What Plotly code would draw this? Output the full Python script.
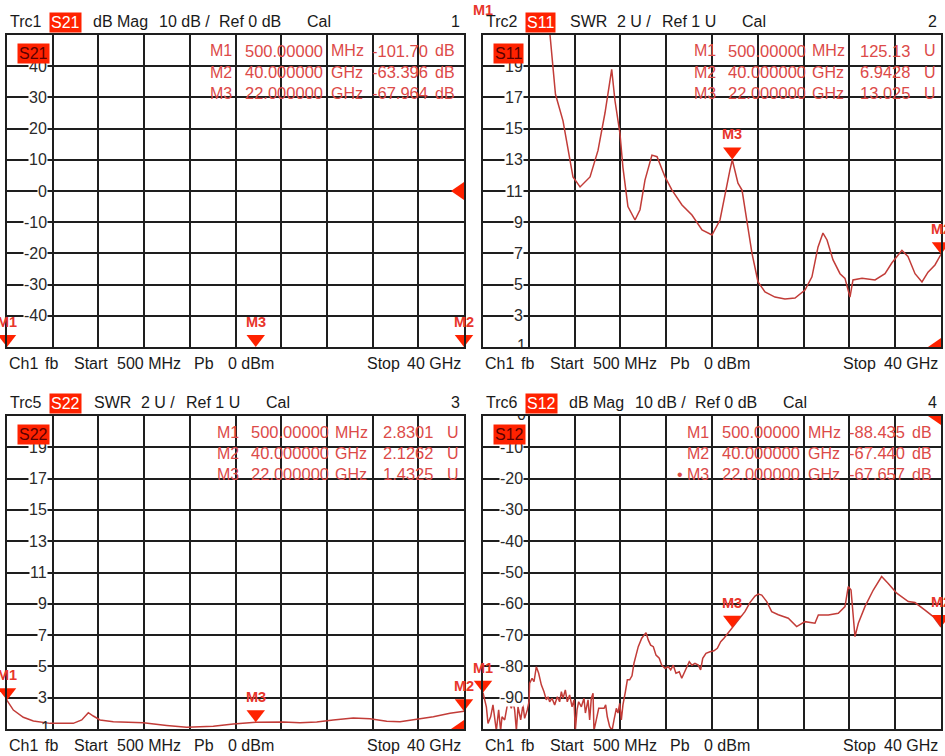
import plotly.graph_objects as go

W, H = 945, 756
F_START, F_STOP = 0.5, 40.0
N_DIV = 10

# ---------------- data ----------------
marker_names = ["M1", "M2", "M3"]
marker_freq_ghz = [0.5, 40.0, 22.0]
s21_marker_db = [-101.70, -63.396, -67.964]
s11_marker_swr = [125.13, 6.9428, 13.025]
s22_marker_swr = [2.8301, 2.1262, 1.4325]
s12_marker_db = [-88.435, -67.440, -67.657]

s11_freq_ghz = [0.5, 2.0, 4.0, 5.6, 6.28, 6.75, 7.40, 8.26, 8.87, 9.73, 10.42, 11.02, 11.60,
                11.88, 12.31, 12.57, 13.00, 13.61, 14.04, 14.47, 15.07, 15.51, 16.20, 16.80,
                17.66, 18.52, 19.39, 20.25, 20.94, 21.37, 21.80, 22.00, 22.49, 22.84, 23.27,
                23.70, 24.22, 24.82, 25.68, 26.54, 27.41, 28.27, 28.87, 29.39, 29.82, 30.17,
                30.68, 31.29, 31.72, 32.15, 32.41, 33.19, 34.31, 35.17, 35.77, 36.63, 37.15,
                37.76, 38.36, 38.88, 39.48, 40.0]
s11_swr = [125.13, 70.0, 38.0, 25.0, 21.0, 17.2, 15.5, 11.9, 11.26, 11.9, 13.6, 16.0, 18.8,
           16.8, 14.7, 12.5, 10.0, 9.14, 9.8, 11.7, 13.3, 13.2, 11.9, 11.06,
           10.1, 9.46, 8.5, 8.18, 9.14, 10.87, 12.35, 13.0, 11.5, 11.06, 8.9,
           7.0, 5.17, 4.53, 4.2, 4.08, 4.14, 4.65, 5.5, 7.4, 8.3, 7.86,
           6.6, 5.7, 5.4, 4.2, 5.3, 5.4, 5.3, 5.7, 6.4, 7.2, 6.8,
           5.7, 5.17, 5.8, 6.26, 6.94]

s22_freq_ghz = [0.5, 1.05, 1.91, 2.78, 4.22, 6.23, 6.96, 7.53, 7.96, 8.54, 9.69, 12.28, 14.3,
                16.03, 18.33, 20.06, 22.0, 24.38, 25.82, 27.27, 28.7, 30.43, 31.87, 33.32,
                34.47, 35.91, 37.35, 38.79, 40.0]
s22_swr = [2.83, 2.21, 1.75, 1.51, 1.36, 1.36, 1.58, 2.04, 1.83, 1.58, 1.47, 1.40, 1.23,
           1.11, 1.17, 1.32, 1.43, 1.45, 1.40, 1.45, 1.58, 1.70, 1.66, 1.49,
           1.47, 1.62, 1.79, 2.0, 2.13]

s12_freq_ghz = [0.50, 0.79, 0.93, 1.16, 1.36, 1.51, 1.65, 1.85, 2.02, 2.14, 2.37, 2.60, 2.80,
                2.94, 3.09, 3.23, 3.38, 3.52, 3.75, 3.95, 4.09, 4.32, 4.47, 4.52, 4.73, 4.90,
                5.10, 5.30, 5.53, 5.76, 5.96, 6.11, 6.25, 6.45, 6.68, 6.91, 7.11, 7.26, 7.40,
                7.60, 7.77, 7.97, 8.18, 8.35, 8.46, 8.61, 8.75, 8.98, 9.21, 9.33, 9.56, 9.70,
                9.84, 9.99, 10.07, 10.27, 10.48, 10.71, 10.94, 11.08, 11.22, 11.42, 11.63,
                11.80, 12.00, 12.14, 12.29, 12.43, 12.57, 12.78, 12.95, 13.15, 13.35, 13.52,
                13.72, 13.89, 14.19, 14.56, 14.76, 14.96, 15.19, 15.42, 15.70, 15.91, 16.20,
                16.48, 16.69, 16.91, 17.14, 17.43, 17.64, 17.83, 18.07, 18.29, 18.52, 18.78,
                19.07, 19.27, 19.45, 19.73, 20.08, 20.42, 20.71, 21.00, 21.28, 21.65, 22.00,
                22.32, 22.66, 23.09, 23.52, 23.96, 24.24, 24.54, 24.97, 25.40, 25.97, 26.83,
                27.55, 28.27, 29.13, 29.42, 30.28, 31.14, 31.72, 32.00, 32.24, 32.58, 32.87,
                33.44, 34.16, 34.88, 35.45, 36.18, 37.18, 37.76, 38.62, 39.33, 40.0]
s12_db = [-88.4, -92.9, -98.2, -96.1, -92.3, -97.1, -100.5, -93.9, -100.5, -96.1, -97.1, -92.3, -91.8,
          -93.4, -91.3, -93.9, -100.5, -92.9, -97.1, -92.3, -96.6, -93.9, -91.3, -85.4, -83.8, -84.9,
          -80.1, -82.2, -85.9, -88.1, -90.7, -89.7, -91.3, -90.2, -92.3, -89.7, -91.3, -88.1, -90.2,
          -87.5, -91.3, -89.1, -92.9, -90.7, -100.5, -93.9, -91.3, -92.9, -90.2, -94.9, -90.7, -97.1,
          -90.2, -88.6, -100.5, -97.1, -93.4, -93.4, -93.4, -92.3, -96.1, -99.2, -100.5,
          -97.1, -93.4, -94.9, -91.8, -97.1, -92.3, -88.1, -84.3, -84.3, -83.0, -79.0,
          -75.8, -73.7, -71.0, -69.2, -71.6, -73.2, -73.7, -76.4, -77.4, -79.6, -80.6,
          -80.1, -81.1, -79.6, -82.2, -81.7, -83.8, -82.2, -80.6, -78.5, -79.6, -79.0,
          -79.6, -81.1, -77.4, -75.8, -75.3, -75.0, -74.2, -72.1, -71.0, -69.2, -67.7,
          -66.2, -64.6, -62.5, -59.6, -57.5, -56.9, -57.2, -59.3, -62.5, -63.5, -64.6,
          -67.3, -65.7, -66.2, -63.6, -63.6, -63.0, -60.9, -54.5, -55.6, -70.5, -66.2,
          -60.9, -55.6, -51.3, -53.5, -56.6, -59.3, -59.6, -62.0, -64.1, -67.4]

db_ticks_tl = [40, 30, 20, 10, 0, -10, -20, -30, -40]
swr_ticks = [19, 17, 15, 13, 11, 9, 7, 5, 3]
db_ticks_br = [-10, -20, -30, -40, -50, -60, -70, -80, -90]

# ---------------- style ----------------
FONT = "Arial, Liberation Sans, sans-serif"
GRID = "#1e1e1e"
TRACE = "#c23c38"
MARK = "#ff2200"
TABLE = "#dc4a48"
TXT = "#1a1a1a"

panels = [
    dict(trc="Trc1", param="S21", fmt="dB Mag", scale="10 dB /", ref="Ref 0 dB", num="1",
         ymin=-50, ymax=50, dtick=10, ticks=db_ticks_tl, ref_value=0, edge_label=None,
         f=None, y=None, mvals=s21_marker_db, unit="dB", box=(7, 35, 464, 347), active=None),
    dict(trc="Trc2", param="S11", fmt="SWR", scale="2 U /", ref="Ref 1 U", num="2",
         ymin=1, ymax=21, dtick=2, ticks=swr_ticks, ref_value=1, edge_label="1",
         f=s11_freq_ghz, y=s11_swr, mvals=s11_marker_swr, unit="U", box=(483, 35, 941, 347), active=None),
    dict(trc="Trc5", param="S22", fmt="SWR", scale="2 U /", ref="Ref 1 U", num="3",
         ymin=1, ymax=21, dtick=2, ticks=swr_ticks, ref_value=1, edge_label="1",
         f=s22_freq_ghz, y=s22_swr, mvals=s22_marker_swr, unit="U", box=(7, 416, 464, 729), active=None),
    dict(trc="Trc6", param="S12", fmt="dB Mag", scale="10 dB /", ref="Ref 0 dB", num="4",
         ymin=-100, ymax=0, dtick=10, ticks=db_ticks_br, ref_value=0, edge_label="0",
         f=s12_freq_ghz, y=s12_db, mvals=s12_marker_db, unit="dB", box=(483, 416, 941, 729), active=2),
]


def px(x):
    return x / W


def py(y):
    return 1 - y / H


def fmt_freq(f):
    if f < 1:
        return f"{f * 1000:#.8g} MHz".split(" ")
    return f"{f:#.8g} GHz".split(" ")


fig = go.Figure()
annotations = []
shapes = []


def ann(x, y, text, xanchor="left", yanchor="middle", size=16, color=TXT):
    annotations.append(dict(x=x, y=y, xref="paper", yref="paper", text=text,
                            showarrow=False, xanchor=xanchor, yanchor=yanchor,
                            font=dict(family=FONT, size=size, color=color)))


for i, p in enumerate(panels, start=1):
    sfx = "" if i == 1 else str(i)
    xa, ya = f"x{sfx}", f"y{sfx}"
    L, T, R, B = p["box"]
    fig.update_layout(**{
        f"xaxis{sfx}": dict(domain=[px(L), px(R)], range=[F_START, F_STOP], anchor=ya,
                            tick0=F_START, dtick=(F_STOP - F_START) / N_DIV, showticklabels=False,
                            ticks="", showgrid=True, gridcolor=GRID, gridwidth=1.6, zeroline=False,
                            showline=True, mirror=True, linecolor=GRID, linewidth=2, fixedrange=True),
        f"yaxis{sfx}": dict(domain=[py(B), py(T)], range=[p["ymin"], p["ymax"]], anchor=xa,
                            tick0=p["ymin"], dtick=p["dtick"], showticklabels=False, ticks="",
                            showgrid=True, gridcolor=GRID, gridwidth=1.6, zeroline=False,
                            showline=True, mirror=True, linecolor=GRID, linewidth=2, fixedrange=True),
    })

    # trace
    if p["f"] is not None:
        fig.add_trace(go.Scatter(x=p["f"], y=p["y"], mode="lines", xaxis=xa, yaxis=ya,
                                 line=dict(color=TRACE, width=1.5), hoverinfo="skip"))

    # markers (tip on the data point, clamped to the display range)
    units_per_px = (p["ymax"] - p["ymin"]) / (B - T)
    r = 8
    disp = [min(max(v, p["ymin"]), p["ymax"]) for v in p["mvals"]]
    fig.add_trace(go.Scatter(x=marker_freq_ghz, y=[d + r * units_per_px for d in disp],
                             mode="markers", xaxis=xa, yaxis=ya, cliponaxis=False,
                             marker=dict(symbol="triangle-down", size=16, color=MARK,
                                         line=dict(width=0)), hoverinfo="skip"))
    for name, f, d in zip(marker_names, marker_freq_ghz, disp):
        annotations.append(dict(x=f, y=d, xref=xa, yref=ya, text=f"<b>{name}</b>", showarrow=False,
                                xanchor="center", yanchor="middle", yshift=25,
                                font=dict(family=FONT, size=14.5, color="#e8362c")))

    # reference level indicator on the right edge
    shapes.append(dict(type="path", xref=xa, yref=ya, xsizemode="pixel", ysizemode="pixel",
                       xanchor=F_STOP, yanchor=p["ref_value"], path="M-13,0 L0,9 L0,-9 Z",
                       fillcolor=MARK, line=dict(width=0), layer="above"))

    # y tick labels (inside the grid, with white background)
    for t in p["ticks"]:
        annotations.append(dict(x=px(L + 41), y=t, xref="paper", yref=ya, text=str(t),
                                showarrow=False, xanchor="right", yanchor="middle",
                                bgcolor="white", borderpad=0,
                                font=dict(family=FONT, size=16, color="#2a2a2a")))
    if p["edge_label"] is not None:
        xlab = F_START + (41 + 2) / (R - L) * (F_STOP - F_START)
        fig.add_trace(go.Scatter(x=[xlab], y=[p["ref_value"]], mode="text", text=[p["edge_label"]],
                                 textposition="middle left", xaxis=xa, yaxis=ya,
                                 textfont=dict(family=FONT, size=16, color="#2a2a2a"),
                                 hoverinfo="skip"))

    # in-plot parameter badge
    annotations.append(dict(x=px(L + 10), y=py(T + 8), xref="paper", yref="paper",
                            text=p["param"], showarrow=False, xanchor="left", yanchor="top",
                            bgcolor=MARK, borderpad=1,
                            font=dict(family=FONT, size=16, color="#5a0000")))

    # header
    hy = py(T - 13.5)
    ann(px(L + 1), hy, p["trc"])
    annotations.append(dict(x=px(L + 42), y=py(T - 12.5), xref="paper", yref="paper",
                            text=p["param"], showarrow=False, xanchor="left", yanchor="middle",
                            bgcolor=MARK, borderpad=1,
                            font=dict(family=FONT, size=16, color="white")))
    if p["unit"] == "dB":
        offs = (84, 150, 210, 298)
    else:
        offs = (85, 132, 177, 257)
    for o, t in zip(offs, (p["fmt"], p["scale"], p["ref"], "Cal")):
        ann(px(L + o), hy, t)
    ann(px(R - 2), hy, p["num"], xanchor="right")

    # footer
    fy = py(B + 16)
    for o, t in zip((0, 36, 65, 108, 185, 219, 358),
                    ("Ch1", "fb", "Start", "500 MHz", "Pb", "0 dBm", "Stop")):
        ann(px(L + o), fy, t)
    ann(px(R - 1), fy, "40 GHz", xanchor="right")

    # marker readout table
    if p["unit"] == "dB":
        cM, cF, cU, cV, cu = 256, 221, 135, 34, 31
    else:
        cM, cF, cU, cV, cu = 249, 215, 131, 29, 19
    for k, (name, f, v) in enumerate(zip(marker_names, marker_freq_ghz, p["mvals"])):
        ry = py(T + 16 + 21 * k)
        fnum, funit = fmt_freq(f)
        if p["active"] == k:
            ann(px(R - cM), ry, "•", xanchor="right", size=16, color=TABLE)
        ann(px(R - cM), ry, name, size=16, color=TABLE)
        ann(px(R - cF), ry, fnum, size=16.5, color=TABLE)
        ann(px(R - cU), ry, funit, size=16, color=TABLE)
        ann(px(R - cV), ry, f"{v:#.5g}", xanchor="right", size=16.5, color=TABLE)
        ann(px(R - cu), ry, p["unit"], size=16, color=TABLE)

fig.update_layout(width=W, height=H, autosize=False, margin=dict(l=0, r=0, t=0, b=0),
                  paper_bgcolor="white", plot_bgcolor="white", showlegend=False,
                  annotations=annotations, shapes=shapes)

fig.write_html("out.html", config={"displayModeBar": False},
               post_script="document.body.style.margin='0';document.body.style.padding='0';")
